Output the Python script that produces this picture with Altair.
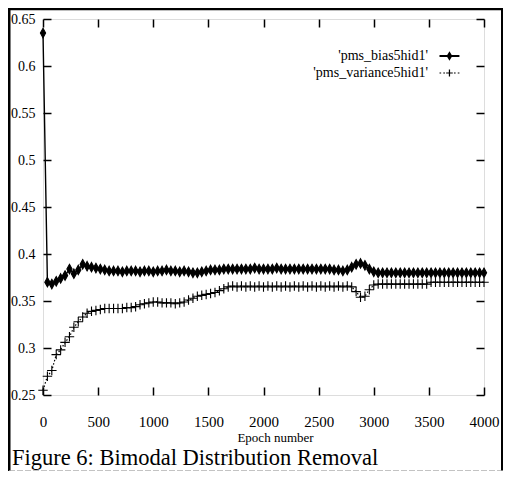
import altair as alt
import pandas as pd

epochs = list(range(0, 4001, 40))

bias = [0.635, 0.370, 0.368, 0.371, 0.374, 0.377, 0.384, 0.379, 0.383, 0.389,
        0.387, 0.386, 0.385, 0.384, 0.383, 0.382, 0.382, 0.382, 0.381, 0.382,
        0.382, 0.382, 0.381, 0.382, 0.382, 0.381, 0.382, 0.382, 0.383, 0.382,
        0.382, 0.381, 0.382, 0.381, 0.380, 0.380, 0.381, 0.382, 0.383, 0.383,
        0.383, 0.384, 0.384, 0.384, 0.384, 0.384, 0.384, 0.384, 0.385, 0.384,
        0.384, 0.384, 0.384, 0.385, 0.384, 0.384, 0.384, 0.384, 0.384, 0.384,
        0.384, 0.384, 0.384, 0.384, 0.384, 0.384, 0.383, 0.383, 0.382, 0.383,
        0.386, 0.389, 0.390, 0.388, 0.384, 0.381, 0.380, 0.380, 0.380, 0.380,
        0.380, 0.380, 0.380, 0.380, 0.380, 0.380, 0.380, 0.380, 0.380, 0.380,
        0.380, 0.380, 0.380, 0.380, 0.380, 0.380, 0.380, 0.380, 0.380, 0.380,
        0.380]

variance = [0.255, 0.270, 0.276, 0.293, 0.298, 0.306, 0.312, 0.322, 0.328, 0.333,
            0.337, 0.339, 0.340, 0.341, 0.342, 0.342, 0.342, 0.342, 0.342, 0.343,
            0.343, 0.344, 0.346, 0.347, 0.348, 0.349, 0.349, 0.348, 0.348, 0.348,
            0.347, 0.348, 0.349, 0.351, 0.353, 0.355, 0.356, 0.357, 0.358, 0.359,
            0.361, 0.363, 0.365, 0.366, 0.365, 0.366, 0.365, 0.366, 0.365, 0.366,
            0.365, 0.366, 0.365, 0.366, 0.365, 0.366, 0.365, 0.366, 0.365, 0.366,
            0.365, 0.366, 0.365, 0.366, 0.365, 0.366, 0.365, 0.366, 0.365, 0.366,
            0.365, 0.360, 0.354, 0.355, 0.362, 0.367, 0.368, 0.368, 0.368, 0.368,
            0.368, 0.368, 0.368, 0.368, 0.368, 0.368, 0.368, 0.368, 0.370, 0.370,
            0.370, 0.370, 0.370, 0.370, 0.370, 0.370, 0.370, 0.370, 0.370, 0.370,
            0.370]

series_names = ["'pms_bias5hid1'", "'pms_variance5hid1'"]
x_ticks = [0, 500, 1000, 1500, 2000, 2500, 3000, 3500, 4000]
y_ticks = [0.25, 0.3, 0.35, 0.4, 0.45, 0.5, 0.55, 0.6, 0.65]
x_title = "Epoch number"
caption = "Figure 6: Bimodal Distribution Removal"

rows = []
for e, b in zip(epochs, bias):
    rows.append({"epoch": e, "value": b, "series": series_names[0]})
for e, v in zip(epochs, variance):
    rows.append({"epoch": e, "value": v, "series": series_names[1]})
df = pd.DataFrame(rows)

SERIF = "Liberation Serif"
xscale = alt.Scale(domain=[0, 4000], nice=False, zero=False)
yscale = alt.Scale(domain=[0.25, 0.65], nice=False, zero=False)

# data point glyphs
diamond = "M0,-1L0.55,0L0,1L-0.55,0Z"
cross = "M-1,0L1,0M0,-1L0,1"
# legend key glyphs (drawn to the right of the right-aligned labels)
key_bias = ("M3.9,-0.22L8.1,-0.22L8.1,0.22L3.9,0.22Z"
            "M6,-1L6.6,0L6,1L5.4,0Z")
key_var = ("M3.9,-0.13L4.25,-0.13L4.25,0.13L3.9,0.13Z"
           "M4.7,-0.13L5.05,-0.13L5.05,0.13L4.7,0.13Z"
           "M5.3,-0.13L6.7,-0.13L6.7,0.13L5.3,0.13Z"
           "M5.87,-0.75L6.13,-0.75L6.13,0.75L5.87,0.75Z"
           "M6.95,-0.13L7.3,-0.13L7.3,0.13L6.95,0.13Z"
           "M7.75,-0.13L8.1,-0.13L8.1,0.13L7.75,0.13Z")

x_bottom = alt.X("epoch:Q", scale=xscale, axis=alt.Axis(
    values=x_ticks, orient="bottom", format="d", domain=False, grid=False, tickSize=8,
    tickWidth=1.5, tickColor="black", offset=-8, labelFlush=False,
    labelOverlap=False, labelFont=SERIF, labelFontSize=15, labelColor="black",
    labelPadding=19, title=x_title, titleFont=SERIF, titleFontSize=13,
    titleFontWeight="normal", titleColor="black", titlePadding=2, titleX=232))
y_left = alt.Y("value:Q", scale=yscale, axis=alt.Axis(
    values=y_ticks, orient="left", format="~g", domain=False, grid=False,
    tickSize=8, tickWidth=1.5, tickColor="black", offset=-8, labelFlush=False,
    labelOverlap=False, labelFont=SERIF, labelFontSize=14, labelColor="black",
    labelPadding=8, title=None))
x_top = alt.X("epoch:Q", scale=xscale, axis=alt.Axis(
    values=x_ticks, orient="top", domain=False, grid=False, tickSize=8,
    tickWidth=1.5, tickColor="black", offset=-8, labels=False, title=None))
y_right = alt.Y("value:Q", scale=yscale, axis=alt.Axis(
    values=y_ticks, orient="right", domain=False, grid=False, tickSize=8,
    tickWidth=1.5, tickColor="black", offset=-8, labels=False, title=None))

x_plain = alt.X("epoch:Q", scale=xscale, axis=None)
y_plain = alt.Y("value:Q", scale=yscale, axis=None)

base = alt.Chart(df)

line_bias = base.transform_filter(
    alt.datum.series == series_names[0]
).mark_line(color="black", strokeWidth=1.4).encode(x=x_bottom, y=y_left)

line_var = base.transform_filter(
    alt.datum.series == series_names[1]
).mark_line(color="black", strokeWidth=1.2, strokeDash=[1.5, 2]).encode(x=x_plain, y=y_plain)

points = base.mark_point(filled=True, fill="black", stroke="black",
                         strokeWidth=1.1, opacity=1).encode(
    x=x_top, y=y_right,
    shape=alt.Shape("series:N", scale=alt.Scale(domain=series_names, range=[diamond, cross]),
                    legend=None),
    size=alt.SizeValue(90),
)

# legend-only layer (no rows survive the filter; the legend comes from the scale domain)
legend_layer = base.transform_filter("false").mark_point(
    filled=True, fill="black", opacity=1).encode(
    x=x_plain, y=y_plain,
    shape=alt.Shape("key:N", scale=alt.Scale(domain=series_names, range=[key_bias, key_var]),
                    legend=alt.Legend(
                        title=None, orient="none", legendX=371, legendY=30,
                        labelAlign="right", labelOffset=0,
                        labelFont=SERIF, labelFontSize=14, labelColor="black",
                        labelLimit=300, symbolSize=90, symbolStrokeWidth=0,
                        symbolFillColor="black", symbolOpacity=1,
                        rowPadding=3, padding=0)),
    size=alt.SizeValue(90),
).transform_calculate(key="datum.series")

one = pd.DataFrame({"k": [0]})
rule_left = alt.Chart(one).mark_rule(color="black", strokeWidth=3).encode(
    x=alt.value(-34), y=alt.value(-10), y2=alt.value(452))
rule_top = alt.Chart(one).mark_rule(color="black", strokeWidth=2.5).encode(
    x=alt.value(-35), x2=alt.value(460), y=alt.value(-10))
rule_right = alt.Chart(one).mark_rule(color="black", strokeWidth=2).encode(
    x=alt.value(459), y=alt.value(-10), y2=alt.value(452))
rule_bottom = alt.Chart(one).mark_rule(color="#aaaaaa", strokeWidth=1,
                                       strokeDash=[6, 2]).encode(
    x=alt.value(-34), x2=alt.value(460), y=alt.value(451.8))

cap = alt.Chart(pd.DataFrame({"t": [caption]})).mark_text(
    font=SERIF, fontSize=22.5, align="left", baseline="alphabetic", color="black").encode(
    text="t:N", x=alt.value(-31), y=alt.value(446))

chart = alt.layer(line_bias, line_var, points, legend_layer, rule_left, rule_top,
                  rule_right, rule_bottom, cap).resolve_axis(
    x="independent", y="independent"
).resolve_scale(shape="independent").properties(
    width=441, height=376,
    autosize=alt.AutoSizeParams(type="none"),
    padding={"left": 35, "top": 11, "right": 20, "bottom": 76},
).configure_view(stroke="black", strokeWidth=2.5).configure(background="white")

chart.save("out.html", embed_options={"renderer": "svg", "actions": False})
